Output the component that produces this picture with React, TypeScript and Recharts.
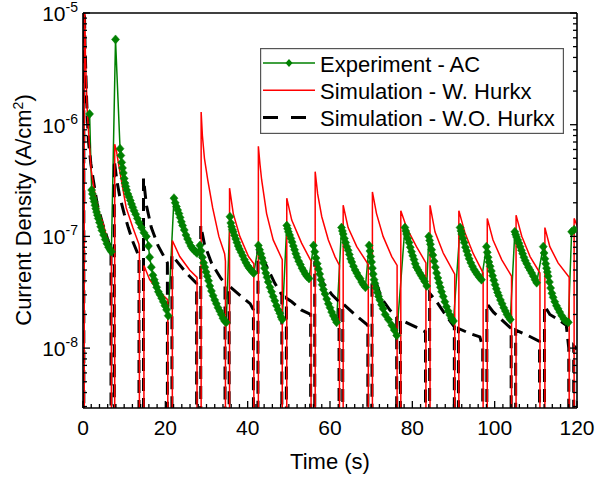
import { LineChart, Line, XAxis, YAxis, Legend } from "recharts";

// value used for the "off" part of each pulse (well below the axis)
const LOW = 1e-11;

// Experiment - AC  [time (s), current density (A/cm2)]
const experiment: [number, number][] = [
  [1.6, 1.25e-6], [2.1, 2.6e-7], [2.3, 2.4e-7], [2.5, 2.2e-7], [2.7, 2.05e-7], [2.9, 1.9e-7], [3.1, 1.77e-7], [3.3, 1.65e-7], [3.5, 1.55e-7], [3.7, 1.45e-7], [4.0, 1.33e-7], [4.3, 1.22e-7], [4.6, 1.13e-7], [5.0, 1.03e-7], [5.4, 9.4e-8], [5.8, 8.6e-8], [6.2, 8.0e-8], [6.6, 7.6e-8], [6.9, 7.3e-8],
  [7.9, 5.8e-6], [9.0, 6.1e-7], [9.2, 5.3e-7], [9.4, 4.6e-7], [9.6, 4.1e-7], [9.8, 3.7e-7], [10.0, 3.3e-7], [10.2, 3.0e-7], [10.4, 2.8e-7], [10.6, 2.6e-7], [10.9, 2.4e-7], [11.2, 2.25e-7], [11.5, 2.1e-7], [11.8, 1.95e-7], [12.1, 1.82e-7], [12.4, 1.7e-7], [12.8, 1.58e-7], [13.2, 1.45e-7], [13.6, 1.33e-7], [14.2, 1.2e-7], [14.8, 1.08e-7], [15.4, 1.0e-7], [15.9, 8.2e-8], [16.2, 6.5e-8], [16.6, 5.3e-8], [17.0, 4.5e-8], [17.3, 4.1e-8], [17.6, 3.8e-8], [17.9, 3.5e-8], [18.3, 3.2e-8], [18.7, 3.0e-8], [19.1, 2.8e-8], [19.5, 2.6e-8], [19.9, 2.4e-8], [20.3, 2.2e-8], [20.7, 1.95e-8],
  [22.1, 2.2e-7], [22.4, 2.0e-7], [22.7, 1.85e-7], [23.0, 1.72e-7], [23.3, 1.6e-7], [23.6, 1.48e-7], [23.9, 1.35e-7], [24.2, 1.25e-7], [24.6, 1.14e-7], [25.0, 1.03e-7], [25.4, 9.5e-8], [25.8, 8.8e-8], [26.2, 8.2e-8], [26.6, 7.8e-8], [27.0, 7.5e-8], [27.4, 7.3e-8], [27.7, 7.1e-8],
  [28.4, 8.3e-8], [28.7, 7.4e-8], [29.0, 6.5e-8], [29.3, 5.8e-8], [29.6, 5.3e-8], [29.9, 4.8e-8], [30.2, 4.4e-8], [30.5, 4.0e-8], [30.8, 3.6e-8], [31.2, 3.25e-8], [31.6, 2.95e-8], [32.0, 2.7e-8], [32.4, 2.5e-8], [32.8, 2.3e-8], [33.2, 2.15e-8], [33.6, 2.0e-8], [34.0, 1.85e-8], [34.4, 1.75e-8], [34.8, 1.7e-8],
  [35.7, 1.5e-7], [35.9, 1.32e-7], [36.1, 1.22e-7], [36.3, 1.15e-7], [36.5, 1.1e-7], [36.8, 1.02e-7], [37.1, 9.5e-8], [37.4, 8.8e-8], [37.7, 8.2e-8], [38.0, 7.7e-8], [38.4, 7.2e-8], [38.8, 6.7e-8], [39.2, 6.2e-8], [39.6, 5.8e-8], [40.0, 5.45e-8], [40.4, 5.2e-8], [40.8, 5.0e-8], [41.2, 4.8e-8], [41.5, 4.7e-8],
  [42.6, 8.3e-8], [42.9, 7.6e-8], [43.2, 7.0e-8], [43.5, 6.4e-8], [43.8, 5.8e-8], [44.1, 5.2e-8], [44.4, 4.7e-8], [44.7, 4.3e-8], [45.0, 3.9e-8], [45.4, 3.5e-8], [45.8, 3.2e-8], [46.2, 2.9e-8], [46.6, 2.65e-8], [47.0, 2.4e-8], [47.4, 2.2e-8], [47.8, 2.05e-8], [48.1, 1.9e-8], [48.4, 1.8e-8],
  [49.5, 1.25e-7], [49.7, 1.17e-7], [49.9, 1.1e-7], [50.2, 1.03e-7], [50.5, 9.6e-8], [50.8, 8.9e-8], [51.1, 8.2e-8], [51.4, 7.6e-8], [51.7, 7.0e-8], [52.0, 6.5e-8], [52.4, 6.0e-8], [52.8, 5.6e-8], [53.2, 5.2e-8], [53.6, 4.9e-8], [54.0, 4.6e-8], [54.4, 4.4e-8], [54.9, 4.2e-8],
  [56.0, 8.3e-8], [56.3, 7.3e-8], [56.6, 6.4e-8], [56.9, 5.7e-8], [57.2, 5.1e-8], [57.5, 4.6e-8], [57.8, 4.1e-8], [58.1, 3.7e-8], [58.4, 3.35e-8], [58.8, 3.05e-8], [59.2, 2.75e-8], [59.6, 2.5e-8], [60.0, 2.3e-8], [60.4, 2.1e-8], [60.8, 1.95e-8], [61.2, 1.82e-8], [61.6, 1.7e-8],
  [62.8, 1.2e-7], [63.0, 1.12e-7], [63.2, 1.05e-7], [63.5, 9.6e-8], [63.8, 8.8e-8], [64.1, 8.1e-8], [64.4, 7.5e-8], [64.7, 6.9e-8], [65.0, 6.3e-8], [65.3, 5.9e-8], [65.7, 5.4e-8], [66.1, 5.0e-8], [66.5, 4.7e-8], [66.9, 4.4e-8], [67.3, 4.2e-8], [67.7, 3.9e-8], [68.1, 3.7e-8], [68.6, 3.5e-8],
  [69.5, 8.3e-8], [69.7, 7.4e-8], [69.9, 6.6e-8], [70.1, 5.9e-8], [70.3, 5.2e-8], [70.5, 4.6e-8], [70.7, 4.1e-8], [70.9, 3.8e-8], [71.2, 3.45e-8], [71.5, 3.15e-8], [71.8, 2.9e-8], [72.1, 2.7e-8], [72.5, 2.45e-8], [72.9, 2.25e-8], [73.4, 2.0e-8], [74.2, 1.8e-8], [75.0, 1.6e-8], [75.6, 1.45e-8], [76.2, 1.3e-8],
  [78.2, 1.2e-7], [78.4, 1.12e-7], [78.6, 1.05e-7], [78.9, 9.6e-8], [79.2, 8.8e-8], [79.5, 8.0e-8], [79.8, 7.3e-8], [80.1, 6.7e-8], [80.4, 6.2e-8], [80.7, 5.7e-8], [81.0, 5.3e-8], [81.4, 5.0e-8], [81.8, 4.7e-8], [82.2, 4.45e-8], [82.6, 4.2e-8], [83.0, 3.95e-8], [83.5, 3.6e-8],
  [84.0, 1.0e-7], [84.2, 9.2e-8], [84.4, 8.5e-8], [84.7, 7.6e-8], [85.0, 6.8e-8], [85.3, 6.0e-8], [85.6, 5.3e-8], [85.9, 4.7e-8], [86.2, 4.25e-8], [86.5, 3.85e-8], [86.8, 3.5e-8], [87.1, 3.2e-8], [87.5, 2.9e-8], [87.9, 2.6e-8], [88.3, 2.35e-8], [88.7, 2.15e-8], [89.1, 1.98e-8], [89.5, 1.85e-8], [90.0, 1.75e-8],
  [91.6, 1.2e-7], [91.8, 1.12e-7], [92.0, 1.05e-7], [92.3, 9.6e-8], [92.6, 8.8e-8], [92.9, 8.0e-8], [93.2, 7.4e-8], [93.5, 6.8e-8], [93.8, 6.3e-8], [94.2, 5.8e-8], [94.6, 5.4e-8], [95.0, 5.05e-8], [95.4, 4.8e-8], [95.8, 4.55e-8], [96.3, 4.3e-8], [96.8, 4.1e-8],
  [98.0, 8.1e-8], [98.2, 7.2e-8], [98.4, 6.5e-8], [98.6, 5.9e-8], [98.9, 5.4e-8], [99.2, 4.9e-8], [99.5, 4.45e-8], [99.8, 4.05e-8], [100.1, 3.7e-8], [100.4, 3.4e-8], [100.7, 3.15e-8], [101.0, 2.95e-8], [101.4, 2.7e-8], [101.8, 2.5e-8], [102.2, 2.3e-8], [102.6, 2.15e-8], [103.0, 2.0e-8], [103.4, 1.9e-8], [103.8, 1.8e-8],
  [104.9, 1.1e-7], [105.1, 1.04e-7], [105.3, 9.9e-8], [105.6, 9.3e-8], [105.9, 8.7e-8], [106.2, 8.1e-8], [106.5, 7.5e-8], [106.8, 7.0e-8], [107.1, 6.5e-8], [107.4, 6.1e-8], [107.8, 5.7e-8], [108.2, 5.3e-8], [108.6, 5.0e-8], [109.0, 4.7e-8], [109.4, 4.4e-8], [109.8, 4.1e-8], [110.2, 3.85e-8],
  [111.8, 8.1e-8], [112.0, 7.1e-8], [112.2, 6.3e-8], [112.4, 5.7e-8], [112.6, 5.2e-8], [112.8, 4.8e-8], [113.0, 4.4e-8], [113.3, 3.9e-8], [113.6, 3.45e-8], [113.9, 3.1e-8], [114.2, 2.85e-8], [114.6, 2.6e-8], [115.0, 2.4e-8], [115.4, 2.25e-8], [115.8, 2.1e-8], [116.3, 1.95e-8], [116.8, 1.82e-8], [117.3, 1.75e-8], [117.9, 1.7e-8],
  [118.7, 1.1e-7], [119.3, 1.15e-7],
];

// Simulation - W. Hurkx
const hurkx: [number, number][] = [
  [0.3, LOW], [0.3, 2e-5], [0.6, 4e-6], [1.0, 1.4e-6], [1.5, 7e-7], [2.0, 3.9e-7], [2.6, 2.8e-7], [3.2, 2.1e-7], [4.0, 1.6e-7], [4.9, 1.3e-7], [5.9, 9.5e-8], [6.8, 7.4e-8], [6.9, 6.6e-8], [6.9, LOW], [7.7, LOW],
  [7.7, 6.7e-7], [8.1, 5.9e-7], [8.7, 4.3e-7], [9.3, 3.2e-7], [10.5, 1.8e-7], [12.1, 1.2e-7], [13.6, 8.5e-8], [13.7, 7.7e-8], [13.7, LOW], [14.8, LOW],
  [14.8, 5.5e-8], [16.2, 4.1e-8], [18.2, 3.3e-8], [20.6, 2.7e-8], [20.6, LOW], [21.7, LOW],
  [21.7, 9.2e-8], [23.5, 6.6e-8], [25.9, 5.0e-8], [27.7, 4.3e-8], [27.7, LOW], [28.7, LOW],
  [28.7, 1.3e-6], [29.0, 8e-7], [29.5, 5e-7], [30.3, 3.2e-7], [31.5, 1.8e-7], [33.0, 1.0e-7], [34.4, 7e-8], [34.6, 6e-8], [34.6, LOW], [35.6, LOW],
  [35.6, 2.7e-7], [36.5, 1.6e-7], [38.1, 1.0e-7], [40.2, 6.6e-8], [41.5, 5.7e-8], [41.5, LOW], [42.6, LOW],
  [42.6, 6.4e-7], [43.0, 4.4e-7], [43.4, 3.2e-7], [44.6, 1.6e-7], [46.2, 9.3e-8], [48.4, 6.2e-8], [48.4, LOW], [49.5, LOW],
  [49.5, 2.2e-7], [50.7, 1.4e-7], [53.1, 8.7e-8], [55.4, 6.0e-8], [55.4, LOW], [56.4, LOW],
  [56.4, 3.8e-7], [57.0, 2.4e-7], [58.0, 1.5e-7], [59.6, 9.3e-8], [61.2, 6.6e-8], [62.3, 5.5e-8], [62.3, LOW], [63.2, LOW],
  [63.2, 1.9e-7], [64.4, 1.2e-7], [66.5, 8.1e-8], [69.3, 5.6e-8], [69.3, LOW], [70.3, LOW],
  [70.3, 2.5e-7], [71.3, 1.6e-7], [72.9, 1.0e-7], [75.0, 6.6e-8], [76.3, 5.5e-8], [76.3, LOW], [77.2, LOW],
  [77.2, 1.7e-7], [78.6, 1.2e-7], [81.0, 8.1e-8], [83.3, 5.8e-8], [83.3, LOW], [84.3, LOW],
  [84.3, 1.9e-7], [85.5, 1.1e-7], [87.5, 7.1e-8], [90.3, 4.6e-8], [90.3, LOW], [91.3, LOW],
  [91.3, 1.7e-7], [92.8, 1.07e-7], [94.8, 7.0e-8], [97.2, 4.7e-8], [97.2, LOW], [98.2, LOW],
  [98.2, 1.45e-7], [99.6, 9.3e-8], [101.7, 6.2e-8], [104.1, 4.4e-8], [104.1, LOW], [105.2, LOW],
  [105.2, 1.55e-7], [106.6, 1.0e-7], [108.6, 6.6e-8], [111.0, 4.7e-8], [111.0, LOW], [112.2, LOW],
  [112.2, 1.2e-7], [113.4, 8.1e-8], [115.4, 5.8e-8], [118.1, 4.3e-8], [118.1, LOW], [119.3, LOW],
  [119.3, 1.45e-7], [120, 1.25e-7],
];

// Simulation - W.O. Hurkx
const noHurkx: [number, number][] = [
  [0.2, LOW], [0.2, 2e-5], [0.5, 5e-6], [0.9, 1.6e-6], [1.3, 7.3e-7], [1.9, 4.5e-7], [2.5, 3.2e-7], [3.5, 1.9e-7], [4.9, 1.25e-7], [6.3, 8.7e-8], [6.8, 8e-8], [6.8, LOW], [7.6, LOW],
  [7.6, 4.8e-7], [8.2, 3.2e-7], [8.9, 2.3e-7], [10.0, 1.6e-7], [11.0, 1.2e-7], [12.1, 9e-8], [13.6, 6.6e-8], [13.6, LOW], [14.7, LOW],
  [14.7, 3.3e-7], [15.4, 1.9e-7], [16.6, 1.2e-7], [18.2, 8.3e-8], [20.5, 5.8e-8], [20.5, LOW], [21.6, LOW],
  [21.6, 6.8e-8], [23.1, 5.8e-8], [25.1, 4.7e-8], [27.6, 3.8e-8], [27.6, LOW], [28.6, LOW],
  [28.6, 1.25e-7], [29.5, 8.5e-8], [31.2, 5.8e-8], [33.5, 4.2e-8], [34.5, 3.8e-8], [34.5, LOW], [35.5, LOW],
  [35.5, 3.6e-8], [38.0, 3.0e-8], [40.6, 2.5e-8], [41.4, 2.2e-8], [41.4, LOW], [42.5, LOW],
  [42.5, 8.3e-8], [44.2, 5.8e-8], [46.6, 3.8e-8], [48.3, 3.0e-8], [48.3, LOW], [49.4, LOW],
  [49.4, 2.8e-8], [50.7, 2.6e-8], [53.0, 2.2e-8], [55.3, 2.0e-8], [55.3, LOW], [56.3, LOW],
  [56.3, 6.0e-8], [58.4, 3.8e-8], [60.5, 3.0e-8], [62.2, 2.6e-8], [62.2, LOW], [63.1, LOW],
  [63.1, 2.5e-8], [66.0, 2.0e-8], [69.2, 1.6e-8], [69.2, LOW], [70.2, LOW],
  [70.2, 5.0e-8], [72.5, 2.8e-8], [74.5, 2.2e-8], [76.2, 1.9e-8], [76.2, LOW], [77.1, LOW],
  [77.1, 1.8e-8], [80.0, 1.6e-8], [83.2, 1.4e-8], [83.2, LOW], [84.2, LOW],
  [84.2, 3.1e-8], [85.9, 2.6e-8], [88.0, 2.0e-8], [90.2, 1.55e-8], [90.2, LOW], [91.2, LOW],
  [91.2, 1.5e-8], [94.0, 1.35e-8], [96.4, 1.26e-8], [97.1, 1.02e-8], [97.1, LOW], [98.1, LOW],
  [98.1, 2.5e-8], [99.7, 2.1e-8], [102.0, 1.75e-8], [104.0, 1.5e-8], [104.0, LOW], [105.1, LOW],
  [105.1, 1.45e-8], [108.0, 1.3e-8], [110.9, 1.15e-8], [110.9, LOW], [112.1, LOW],
  [112.1, 2.4e-8], [113.4, 2.0e-8], [115.5, 1.8e-8], [117.4, 1.6e-8], [118.0, 1.0e-8], [118.0, LOW], [119.2, LOW],
  [119.2, 1.05e-8], [120, 9.8e-9],
];

const xMajor = [0, 20, 40, 60, 80, 100, 120];
const xTicks = Array.from({ length: 61 }, (_, i) => i * 2);
const yMajor = [1e-8, 1e-7, 1e-6, 1e-5];
const yTicks = [3e-9, 4e-9, 5e-9, 6e-9, 7e-9, 8e-9, 9e-9].concat(
  ...yMajor.slice(0, 3).map((d) => [d, 2, 3, 4, 5, 6, 7, 8, 9].map((m, i) => (i === 0 ? d : m * d))),
  [1e-5]
);
const yDomain = [2.91e-9, 1e-5];

const FONT = "Arial, 'Liberation Sans', sans-serif";
const GREEN = "#008000";

const toRows = (pts: [number, number][]) => pts.map(([t, v]) => ({ t, v }));

const BottomTick = (p: any) => {
  const major = xMajor.includes(p.payload.value);
  return (
    <g>
      <line x1={p.x} x2={p.x} y1={p.y} y2={p.y - (major ? 7 : 4)} stroke="#000" strokeWidth={1.3} />
      {major && (
        <text x={p.x} y={p.y + 27} textAnchor="middle" fontSize={21} fontFamily={FONT} fill="#000">
          {p.payload.value}
        </text>
      )}
    </g>
  );
};

const TopTick = (p: any) => {
  const major = xMajor.includes(p.payload.value);
  return <line x1={p.x} x2={p.x} y1={p.y} y2={p.y + (major ? 7 : 4)} stroke="#000" strokeWidth={1.3} />;
};

const LeftTick = (p: any) => {
  const major = yMajor.includes(p.payload.value);
  const exp = Math.round(Math.log10(p.payload.value));
  return (
    <g>
      <line x1={p.x} x2={p.x + (major ? 7 : 4)} y1={p.y} y2={p.y} stroke="#000" strokeWidth={1.3} />
      {major && (
        <text x={p.x - 5} y={p.y + 8} textAnchor="end" fontSize={21} fontFamily={FONT} fill="#000">
          10<tspan dy={-9} fontSize={14}>{String(exp)}</tspan>
        </text>
      )}
    </g>
  );
};

const RightTick = (p: any) => {
  const major = yMajor.includes(p.payload.value);
  return <line x1={p.x} x2={p.x - (major ? 7 : 4)} y1={p.y} y2={p.y} stroke="#000" strokeWidth={1.3} />;
};

const Diamond = (p: any) => {
  if (p.cx == null || p.cy == null) return <g key={p.index} />;
  const { cx, cy } = p;
  return (
    <path
      key={`dm-${p.index}`}
      d={`M${cx},${cy - 4.5}L${cx + 4},${cy}L${cx},${cy + 4.5}L${cx - 4},${cy}Z`}
      fill={GREEN}
      stroke={GREEN}
      strokeWidth={0.5}
    />
  );
};

const legendRows = [
  { name: "Experiment - AC", color: GREEN, dash: undefined as string | undefined, width: 1.5, marker: true },
  { name: "Simulation - W. Hurkx", color: "#ff0000", dash: undefined, width: 1.5, marker: false },
  { name: "Simulation - W.O. Hurkx", color: "#000", dash: "15 13", width: 3, marker: false },
];

const LegendBox = () => (
  <svg width={304} height={86} style={{ display: "block" }}>
    <rect x={0.6} y={0.6} width={302.8} height={84.8} fill="#fff" stroke="#555" strokeWidth={1.2} />
    {legendRows.map((r, i) => {
      const cy = 15 + i * 27.3;
      return (
        <g key={r.name}>
          <line x1={3} x2={55} y1={cy} y2={cy} stroke={r.color} strokeWidth={r.width} strokeDasharray={r.dash} />
          {r.marker && <path d={`M29,${cy - 4}L32.5,${cy}L29,${cy + 4}L25.5,${cy}Z`} fill={r.color} />}
          <text x={60} y={cy + 8.5} fontSize={22} fontFamily={FONT} fill="#000">
            {r.name}
          </text>
        </g>
      );
    })}
  </svg>
);

export default function App() {
  return (
    <div style={{ width: 595, height: 480 }}>
      {/* the chart fills the whole page, so drop the default body margin */}
      <style>{`html, body { margin: 0; padding: 0; overflow: hidden; }`}</style>
      <LineChart width={595} height={480} margin={{ top: 0, right: 0, bottom: 0, left: 0 }}>
        <XAxis
          xAxisId="b"
          dataKey="t"
          type="number"
          domain={[0, 120]}
          allowDataOverflow
          ticks={xTicks}
          interval={0}
          tickSize={0}
          tickMargin={0}
          tickLine={false}
          tick={BottomTick}
          height={72}
          axisLine={{ stroke: "#000", strokeWidth: 1.6 }}
          label={{
            content: () => (
              <text x={330} y={469} textAnchor="middle" fontSize={22} fontFamily={FONT} fill="#000">
                Time (s)
              </text>
            ),
          }}
        />
        <XAxis
          xAxisId="t"
          orientation="top"
          type="number"
          domain={[0, 120]}
          allowDataOverflow
          ticks={xTicks}
          interval={0}
          tickSize={0}
          tickMargin={0}
          tickLine={false}
          tick={TopTick}
          height={13}
          axisLine={{ stroke: "#000", strokeWidth: 1.6 }}
        />
        <YAxis
          yAxisId="l"
          type="number"
          scale="log"
          domain={yDomain}
          allowDataOverflow
          ticks={yTicks}
          interval={0}
          tickSize={0}
          tickMargin={0}
          tickLine={false}
          tick={LeftTick}
          width={83}
          axisLine={{ stroke: "#000", strokeWidth: 1.6 }}
          label={{
            content: () => (
              <text
                x={31}
                y={210}
                transform="rotate(-90, 31, 210)"
                textAnchor="middle"
                fontSize={22}
                fontFamily={FONT}
                fill="#000"
              >
                Current Density (A/cm<tspan dy={-8} fontSize={14}>2</tspan>
                <tspan dy={8}>)</tspan>
              </text>
            ),
          }}
        />
        <YAxis
          yAxisId="r"
          orientation="right"
          type="number"
          scale="log"
          domain={yDomain}
          allowDataOverflow
          ticks={yTicks}
          interval={0}
          tickSize={0}
          tickMargin={0}
          tickLine={false}
          tick={RightTick}
          width={18}
          axisLine={{ stroke: "#000", strokeWidth: 1.6 }}
        />
        <Line
          xAxisId="b"
          yAxisId="l"
          data={toRows(experiment)}
          dataKey="v"
          name="Experiment - AC"
          type="linear"
          stroke={GREEN}
          strokeWidth={1.5}
          dot={Diamond}
          activeDot={false}
          isAnimationActive={false}
        />
        <Line
          xAxisId="b"
          yAxisId="l"
          data={toRows(noHurkx)}
          dataKey="v"
          name="Simulation - W.O. Hurkx"
          type="linear"
          stroke="#000"
          strokeWidth={3}
          strokeDasharray="13 7"
          dot={false}
          activeDot={false}
          isAnimationActive={false}
        />
        <Line
          xAxisId="b"
          yAxisId="l"
          data={toRows(hurkx)}
          dataKey="v"
          name="Simulation - W. Hurkx"
          type="linear"
          stroke="#ff0000"
          strokeWidth={1.5}
          dot={false}
          activeDot={false}
          isAnimationActive={false}
        />
        <Legend
          layout="vertical"
          align="center"
          verticalAlign="middle"
          content={LegendBox}
          wrapperStyle={{ position: "absolute", left: 260, top: 48, width: 304, height: 86 }}
        />
      </LineChart>
    </div>
  );
}
